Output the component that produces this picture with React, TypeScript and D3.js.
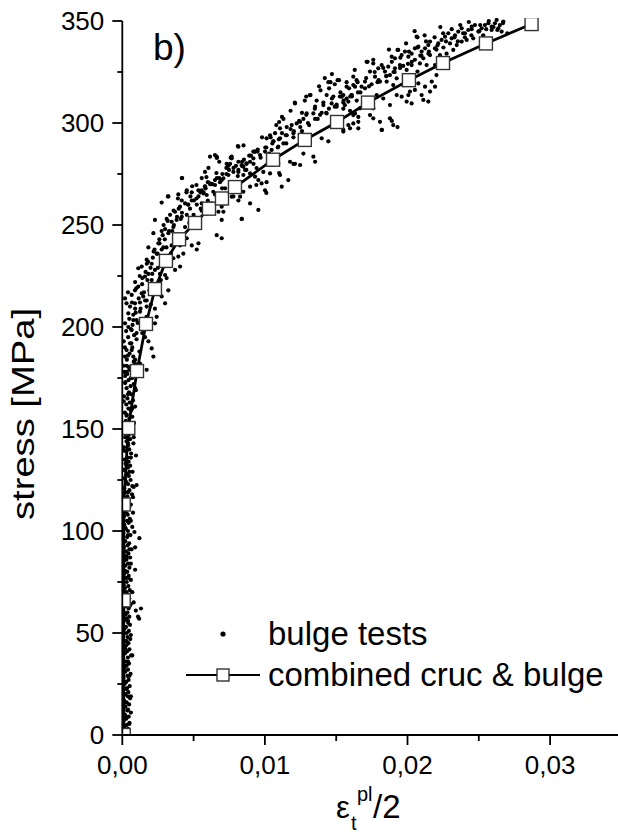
import React from "react";
import * as d3 from "d3";

type P = [number, number];

// bulge tests: strain (eps_t^pl / 2), stress [MPa]
const bulgeLow: P[] = [
[0.00005,1],[0.00025,2],[0.0004,3],[0.00015,4],[0.00032,5],[0.0005,6],[0.0001,7],[0.00028,8],[0.00045,9],[0.00018,10],[0.0006,11],[0.00035,12],[0.00008,13],[0.00022,14],[0.00048,15],[0.0003,16],[0.00012,17],[0.00055,18],[0.00038,19],[0.0002,20],[0.00042,21],[0.00006,22],[0.00033,23],[0.00052,24],[0.00016,25],[0.00027,26],[0.00044,27],[0.00009,28],[0.00036,29],[0.00058,30],[0.00021,31],[0.0004,32],[0.00013,33],[0.0003,34],[0.00047,35],[0.00024,36],[0.00005,37],[0.00039,38],[0.00062,39],[0.00018,40],[0.00034,41],[0.0005,42],[0.00011,43],[0.00028,44],[0.00043,45],[0.0002,46],[0.00056,47],[0.00037,48],[0.00008,49],[0.00031,50],[0.00046,51],[0.00015,52],[0.00026,53],[0.00054,54],[0.00041,55],[0.00012,56],[0.0003,57],[0.00118,57],[0.00049,58],[0.00022,59],[0.00036,60],[0.00007,61],[0.00044,62],[0.00131,62],[0.00025,63],[0.00058,64],[0.00017,65],[0.00033,66],[0.00048,67],[0.0001,68],[0.00038,69],[0.00027,70],[0.00052,71],[0.00019,72],[0.00042,73],[0.00006,74],[0.00031,75],[0.0006,76],[0.00023,77],[0.00045,78],[0.00014,79],[0.00035,80],[0.0009,81],[0.0005,82],[0.0002,83],[0.0004,84],[0.00009,85],[0.00029,86],[0.00055,87],[0.00016,88],[0.00043,89],[0.00026,90],[0.00065,91],[0.00012,92],[0.00037,93],[0.00048,94],[0.00021,95],[0.0012,96.5],[0.00034,97],[0.00057,98],[0.00008,99],[0.0004,100],[0.00025,101],[0.0007,102],[0.00015,103],[0.00045,104],[0.00032,105],[0.00053,106],[0.00011,107],[0.00038,108],[0.00075,109],[0.00022,110],[0.00047,111],[0.00018,112],[0.0006,113],[0.0003,114],[0.00042,115],[0.00007,116],[0.00035,117],[0.00068,118],[0.00024,119],[0.0005,120],[0.00014,121],[0.001,122.5],[0.0004,123],[0.00028,124],[0.00058,125],[0.00019,126],[0.00046,127],[0.00033,128],[0.00072,129],[0.0001,130],[0.00039,131],[0.00055,132],[0.00023,133],[0.00044,134],[0.00016,135],[0.00096,137],[0.00036,136],[0.00062,138],[0.00027,139],[0.00049,140],[0.00012,141],[0.00041,142],[0.00078,143],[0.0003,144],[0.00054,145],[0.0002,146],[0.00045,147],[0.00066,148],[0.00034,149],[0.00015,150],[0.00059,151],[0.00038,152],[0.00082,153],[0.00025,154],[0.0005,155],[0.0007,156],[0.00031,157],[0.00018,158],[0.00061,159],[0.00043,160],[0.0009,161],[0.00028,162],[0.00052,163],[0.00075,164],[0.00036,165],[0.00012,166],[0.00064,167],[0.00047,168],[0.00095,169],[0.0003,170],[0.00058,171],[0.0008,172],[0.00022,173],[0.00044,174],[0.0007,175],[0.00105,176],[0.00035,177],[0.00015,178],
[0.00085,99.5],[0.0009,92],[0.0008,65],[0.00095,61],[0.0011,58],[0.00075,116.6],[0.0008,121.6]
];

const bulgeStrip: P[] = [
[0.0003,0.5],[0.0001,3],[0.0005,5.5],[0.0002,9],[0.0004,12.5],[0.0001,16],[0.0006,19],[0.0003,22.5],[0.0002,26],[0.0005,29],[0.0001,32.5],[0.0004,36],[0.0007,39],[0.0002,42.5],[0.0003,46],[0.0006,49],[0.0001,52.5],[0.0004,56],[0.0002,59.5],[0.0005,63],[0.0003,66.5],[0.0007,70],[0.0001,73.5],[0.0004,77],[0.0002,80.5],[0.0006,84],[0.0003,87.5],[0.0005,91],[0.0001,94.5],[0.0004,98],[0.0002,101.5],[0.0006,105],[0.0003,108.5],[0.0005,112],[0.0001,115.5],[0.0004,119],[0.0007,122],[0.0002,125.5],[0.0005,129],[0.0003,132.5],[0.0006,136],[0.0001,139.5],[0.0004,143],[0.0008,146],[0.0002,149.5],[0.0005,153],[0.0003,156.5],[0.0007,160],[0.0001,163.5],[0.0004,167],[0.0009,170],[0.0002,172.5],[0.0006,175],[0.0011,178],[0.0003,181],[0.0008,183]
];

const bulgeKnee: P[] = [
[0.0065,284.3],[0.00662,283],[0.00767,283.5],[0.00756,280],[0.00744,279],[0.00604,278],[0.00814,276],[0.00838,279],[0.00849,274.5],[0.00557,273],[0.00417,273],[0.00627,270],[0.0065,269.6],[0.00697,272],[0.00721,268],[0.0058,269],[0.00534,267],[0.00487,266],[0.00452,267],[0.00323,264],[0.00276,261],[0.00393,265],[0.00417,262],[0.0044,260.6],[0.00487,262],[0.00534,264],[0.00569,265.5],[0.00522,260],[0.00475,258],[0.00405,259],[0.0037,256.5],[0.00335,255],[0.00311,253],[0.00346,251.6],[0.00381,252.5],[0.00417,254],[0.00452,255],[0.00358,249],[0.003,248],[0.00276,247],[0.00323,246],[0.00229,252.5],[0.00218,246],[0.00183,239],[0.00253,241],[0.00288,239],[0.00346,240],[0.00405,240],[0.00452,243.5],[0.00487,240],[0.00534,241],[0.00522,238],[0.00428,236],[0.00393,234.5],[0.00358,233.7],[0.00276,238],[0.00241,236],[0.00171,233],[0.00206,231],[0.00136,229.6],[0.00112,228.8],[0.00229,228],[0.00264,226],[0.003,225.5],[0.00311,224],[0.0037,228],[0.00405,229.6],[0.00183,226],[0.00159,224.7],[0.00206,223],[0.00253,222],[0.00112,219.8],[0.00089,218],[0.00066,215.7],[0.00136,216.5],[0.00147,215],[0.00171,213],[0.00124,212],[0.00089,211.6],[0.00054,210],[0.00042,206.7],[0.00077,206],[0.00124,207.5],[0.00171,210],[0.00229,209],[0.003,211.6],[0.00323,218],[0.00276,215],[0.00019,214],[0.0003,211.6],[0.00019,201.8],[0.00042,200],[0.00066,198.5],[0.001,197],[0.00159,195],[0.00183,193],[0.00229,201.8],[0.00241,205],[0.00206,189.5],[0.00218,185.5],[0.00054,192],[0.00066,188.7],[0.0003,188.7],[0.00019,185.5],[0.00077,185.5],[0.00089,182],[0.00042,180.5],[0.0003,178],[0.00171,179],[0.00124,182],[0.001,203.4],[0.00077,203.4],[0.00697,252.5],[0.00662,245],[0.00697,243.5],[0.00838,253],[0.00814,262],[0.00779,264],[0.00674,256.5],[0.00697,259],[0.00721,260.6],[0.00627,260.6],[0.00592,255.7],[0.00557,257]
];

const bulgeMid: P[] = [
[0.01445,320],[0.01573,320],[0.0162,318.6],[0.01316,313.7],[0.01433,313.7],[0.0148,313],[0.01526,313],[0.01573,312],[0.01608,313.7],[0.01644,311],[0.01211,309.6],[0.01363,311],[0.01352,308],[0.0141,308.8],[0.01468,309.6],[0.01503,308],[0.0155,307],[0.01597,306],[0.01632,304.7],[0.01655,303],[0.01433,304.7],[0.01387,304],[0.0134,304.7],[0.01293,304.7],[0.0127,302],[0.01247,300.6],[0.01223,299.8],[0.01188,299],[0.01153,298],[0.0113,302],[0.01106,297.4],[0.01071,295],[0.01036,294],[0.01012,292.5],[0.01059,291],[0.01106,292.5],[0.01153,294],[0.012,295],[0.0113,290],[0.01094,288.4],[0.01047,286.8],[0.01001,286],[0.00966,284.3],[0.00931,286],[0.00919,282.7],[0.00896,281],[0.00872,280.2],[0.00849,278.6],[0.00814,277],[0.00779,276],[0.00744,274.5],[0.00709,272.9],[0.00685,271],[0.0065,272],[0.00615,270.4],[0.0058,268.8],[0.00557,267],[0.00592,264.7],[0.00638,266.3],[0.00732,280],[0.00767,282.7],[0.00814,281],[0.00837,279.4],[0.00861,277],[0.00896,275.3],[0.00931,273.7],[0.00954,272],[0.00977,270.4],[0.01012,271],[0.01001,267],[0.01106,274.5],[0.01118,268.8],[0.01164,272],[0.01176,281],[0.01211,280],[0.01247,279.4],[0.0134,283.5],[0.01352,281],[0.01445,291],[0.01398,292.5],[0.01503,298],[0.0155,296.6],[0.01585,299],[0.0162,299.8],[0.01655,297.4],[0.00615,283.5],[0.00662,283.5],[0.00814,288.4],[0.00919,286],[0.00826,263.9],[0.00896,260.6],[0.00954,257.4],[0.00837,253],[0.00709,256.5],[0.0058,259],[0.00557,260.6],[0.01047,279.4],[0.01094,280],[0.00942,277.9],[0.00989,276],[0.01036,275.3],[0.00896,268.8],[0.00849,266.3],[0.0079,267],[0.00767,263.9]
];

const bulgeHigh: P[] = [
[0.01538,312.9],[0.01561,308.8],[0.01585,310.5],[0.0162,322.7],[0.01643,321],[0.01632,317.8],[0.01678,317.8],[0.01702,320.3],[0.01737,325.2],[0.01713,330],[0.0176,329.2],[0.01795,326.8],[0.01819,328.4],[0.01842,325.2],[0.01865,327.6],[0.01889,332.5],[0.01912,331.7],[0.01935,335.8],[0.01959,333.3],[0.01982,335],[0.02006,332.5],[0.02029,334],[0.02052,336.6],[0.02076,337.4],[0.02099,335],[0.02123,336.6],[0.02146,338.2],[0.02158,339.9],[0.02193,336.6],[0.02216,339],[0.02239,340.7],[0.02263,342.3],[0.02286,344],[0.0231,341.5],[0.02333,343],[0.02356,344.8],[0.0238,346.4],[0.02403,344],[0.02426,345.6],[0.0245,347.2],[0.02473,348],[0.02497,344.8],[0.0252,346.4],[0.02543,348],[0.02567,348.9],[0.0259,347.2],[0.02613,348.9],[0.02625,350.5],[0.02672,349.7],[0.02531,343],[0.0259,345.6],[0.02637,346.4],[0.0266,344.8],[0.02064,342.3],[0.02111,331.7],[0.02158,333.3],[0.02193,328.4],[0.02228,333.3],[0.02274,334],[0.02321,335.8],[0.02345,338.2],[0.0238,339.9],[0.02415,340.7],[0.02461,341.5],[0.01772,322.7],[0.01807,320.3],[0.01854,320.3],[0.019,318.6],[0.01924,321.9],[0.01877,323.5],[0.01947,328.4],[0.01994,326],[0.01784,313.7],[0.0183,312],[0.01877,308.8],[0.0176,307.2],[0.01737,303.9],[0.0176,302.3],[0.01807,300.6],[0.01877,302.3],[0.019,299],[0.01819,296.6],[0.01655,300.6],[0.0162,303.9],[0.01597,297.4],[0.0155,295.8],[0.01924,313.7],[0.01959,312.9],[0.02006,313.7],[0.02029,309.6],[0.02099,313.7],[0.02111,311.3],[0.02146,310.5],[0.02017,315.4],[0.02052,316.2],[0.02123,317.8],[0.0217,320.3],[0.02203,323.5],[0.02193,317.8],[0.02158,315.4],[0.02076,319.4],[0.01573,317.8],[0.0155,313.7],[0.01608,313.7],[0.01667,307.2],[0.01702,309.6],[0.01994,310.5],[0.01971,318.6],[0.01912,326.8],[0.02029,328.4],[0.02087,329.2],[0.02134,328.4],[0.0207,325.2]
];

const bulgeExtra: P[] = [
[0.0121,310],[0.0081,288.7],[0.00664,283],[0.0042,273],[0.0032,264],[0.0112,303],[0.011,300.5],[0.0104,293],[0.0101,288],[0.0093,286],[0.0087,280],[0.0076,283],[0.0073,278],[0.0059,273.5],[0.006,271],[0.0066,275.5],[0.0052,269.6],[0.0045,266],[0.0094,269.6],[0.0101,265.7],[0.011,275.5],[0.012,280],[0.0127,285],[0.0129,313],[0.0207,342],[0.0193,335.8],[0.0172,330],[0.0146,320],[0.0132,313.7],[0.0126,305],[0.0193,298],[0.0182,296.6],[0.0189,301],[0.0263,345.6],[0.027,344],[0.0267,349],[0.0138,318],[0.0142,322],[0.0147,324],[0.0151,321],[0.0145,317],[0.0149,319],
[0.00008,181],[0.00032,184],[0.00051,187],[0.00018,190],[0.00063,192],[0.00041,195],[0.00083,196],[0.00027,198],[0.00072,201],[0.00108,202],[0.00049,204],[0.00094,207],[0.00128,209],[0.00068,212],[0.00115,214],[0.00152,217],[0.00098,219],[0.00139,221],[0.00176,223],[0.00122,225],[0.00163,227],[0.00198,229],[0.00172,231],[0.00214,234],[0.00247,236],[0.00226,238],[0.00261,241],[0.00298,243],[0.00283,245],[0.00327,247],[0.00362,250],[0.00318,252],[0.00384,254],[0.00418,256],[0.00396,258],[0.00463,260],[0.00502,262],[0.00478,264],[0.00548,266],[0.00584,268],[0.00617,270],[0.00663,273],[0.00702,275],[0.00748,277],[0.00797,279],[0.00853,282],[0.00902,284],[0.00948,286],[0.01003,288],[0.01052,290],[0.01098,292],[0.01147,294],[0.01203,296],[0.01248,298],[0.01302,300],[0.01352,302],[0.01398,305],[0.01449,307],[0.01503,309],[0.01552,311],[0.01598,313],[0.01653,315],[0.01702,317],[0.01748,319],[0.01797,321],[0.01853,323],[0.01902,325],[0.01948,327],[0.02003,329],[0.02052,331],[0.02098,333],[0.02147,334],[0.02203,336],[0.02252,337],[0.02298,339],[0.02353,340],[0.02402,342],[0.02448,343],[0.02503,345],[0.02552,346],[0.02603,347],[0.02648,348]
];

const bulgeDense: P[] = [
[0.0002,176],[0.0005,179],[0.0009,184],[0.0004,186],[0.0012,188],[0.0007,190],[0.0001,193],[0.001,194],[0.0014,197],[0.0006,199],[0.0013,203],[0.0017,205],[0.0009,209],[0.002,211],[0.0016,213],[0.0004,217],[0.0019,218],[0.0023,220],[0.0009,222],[0.0014,224],[0.0027,223],[0.0021,226],[0.0025,229],[0.0018,232],[0.0031,231],[0.0028,234],[0.0034,236],[0.0022,237],[0.0031,239],[0.0037,242],[0.0026,243],[0.004,245],[0.0035,247],[0.0044,249],[0.0029,250],[0.0047,251],[0.0041,253],[0.005,255],[0.0036,257],[0.0055,258],[0.0046,260],[0.006,262],[0.0052,263],[0.0039,263],[0.0065,265],[0.0057,266],[0.007,268],[0.0049,269],[0.0063,270],[0.0076,271],[0.0068,273],[0.0081,274],[0.0073,275],[0.0058,276],[0.0087,277],[0.0078,278],[0.0092,280],[0.0084,281],[0.0068,281],[0.0097,283],[0.0089,284],[0.0103,285],[0.0095,287],[0.0109,288],[0.0085,289],[0.0115,290],[0.0106,291],[0.012,293],[0.0098,293],[0.0112,295],[0.0126,296],[0.0118,297],[0.0131,299],[0.0108,299],[0.0124,301],[0.0137,302],[0.0129,304],[0.0143,305],[0.0118,306],[0.0135,307],[0.0149,308],[0.0141,310],[0.0155,310],[0.0128,311],[0.0147,312],[0.0161,313],[0.0153,315],[0.0167,315],[0.0139,316],[0.0159,317],[0.0173,318],[0.0165,320],[0.0179,320],[0.0152,321],[0.0171,322],[0.0185,323],[0.0177,325],[0.0191,325],[0.0163,326],[0.0183,327],[0.0197,328],[0.0189,330],[0.0203,330],[0.0176,331],[0.0195,332],[0.0209,333],[0.0201,335],[0.0215,335],[0.0187,336],[0.0207,337],[0.0221,338],[0.0213,340],[0.0227,340],[0.0199,339],[0.0219,342],[0.0233,342],[0.0225,344],[0.0239,344],[0.0212,343],[0.0231,346],[0.0245,346],[0.0237,348],[0.0251,348],[0.0243,349.5],[0.0257,350],[0.0223,347],[0.0205,345]
];

// combined cruc & bulge
const combStrain = [0.0001, 0.0001, 0.0001, 0.00042, 0.00103, 0.00166, 0.00229, 0.00306, 0.00398, 0.0051, 0.00608, 0.00699, 0.0079, 0.01057, 0.0128, 0.01506, 0.01723, 0.0201, 0.02249, 0.0255, 0.0287];
const combStress = [0, 66, 113, 150.5, 178.4, 201.5, 218.6, 232.4, 243, 251, 258, 263, 268.6, 282, 291.7, 300.5, 310, 321, 329.4, 339, 348.5];

const xMajor = [0, 0.01, 0.02, 0.03];
const xMinor = [0.005, 0.015, 0.025];
const yMajor = [0, 50, 100, 150, 200, 250, 300, 350];
const yMinor = [25, 75, 125, 175, 225, 275, 325];

const legendLabels = ["bulge tests", "combined cruc & bulge"];
const panelLabel = "b)";
const yTitle = "stress [MPa]";

const FONT = "'Liberation Sans', Arial, Helvetica, sans-serif";

export default function App() {
  const W = 618, H = 834;
  const x = d3.scaleLinear().domain([0, 0.035]).range([122.3, 621.4]);
  const y = d3.scaleLinear().domain([0, 350]).range([735, 21]);
  const fmt = (v: number) => d3.format(".2f")(v).replace(".", ",");
  const dots: P[] = [...bulgeLow, ...bulgeStrip, ...bulgeKnee, ...bulgeMid, ...bulgeHigh, ...bulgeExtra, ...bulgeDense];
  const comb: P[] = combStrain.map((s, i) => [s, combStress[i]]);
  const line = d3.line<P>().x(d => x(d[0])).y(d => y(d[1]));
  const sq = 13;
  const x0 = x(0), y0 = y(0), yTop = y(350);

  return (
    <svg width={W} height={H} style={{ position: "absolute", left: 0, top: 0, background: "#fff" }} fontFamily={FONT}>
      <rect width={W} height={H} fill="#fff" />
      <defs>
        <clipPath id="plotclip">
          <rect x={x0} y={yTop - 3} width={W - x0} height={y0 - yTop + 3} />
        </clipPath>
      </defs>
      <g clipPath="url(#plotclip)">
        {dots.map((d, i) => (
          <circle key={i} cx={x(d[0])} cy={y(d[1])} r={2.1} fill="#000" />
        ))}
        <path d={line(comb) || ""} fill="none" stroke="#000" strokeWidth={2.8} />
        {comb.map((d, i) => (
          <rect key={i} x={x(d[0]) - sq / 2} y={y(d[1]) - sq / 2} width={sq} height={sq} fill="#fff" stroke="#333" strokeWidth={1.4} />
        ))}
      </g>
      {/* axes */}
      <line x1={x0} x2={x0} y1={yTop} y2={y0} stroke="#000" strokeWidth={1.8} />
      <line x1={x0 - 0.9} x2={W} y1={y0} y2={y0} stroke="#000" strokeWidth={1.8} />
      {yMajor.map(v => (
        <g key={"ym" + v}>
          <line x1={x0 - 10} x2={x0} y1={y(v)} y2={y(v)} stroke="#000" strokeWidth={1.8} />
          <text x={x0 - 18} y={y(v)} dy="0.36em" textAnchor="end" fontSize={26} fill="#000">{v}</text>
        </g>
      ))}
      {yMinor.map(v => (
        <line key={"yn" + v} x1={x0 - 5} x2={x0} y1={y(v)} y2={y(v)} stroke="#000" strokeWidth={1.8} />
      ))}
      {xMajor.map(v => (
        <g key={"xm" + v}>
          <line x1={x(v)} x2={x(v)} y1={y0} y2={y0 + 10} stroke="#000" strokeWidth={1.8} />
          <text x={x(v)} y={y0 + 39} textAnchor="middle" fontSize={26} fill="#000">{fmt(v)}</text>
        </g>
      ))}
      {xMinor.map(v => (
        <line key={"xn" + v} x1={x(v)} x2={x(v)} y1={y0} y2={y0 + 6} stroke="#000" strokeWidth={1.8} />
      ))}
      {/* axis titles */}
      <text transform={`translate(34, 414) rotate(-90)`} textAnchor="middle" fontSize={31} textLength={212} lengthAdjust="spacingAndGlyphs" fill="#000">{yTitle}</text>
      <text x={336} y={818} fontSize={31} fill="#000">ε</text>
      <text x={351} y={830} fontSize={20} fill="#000">t</text>
      <text x={357} y={801} fontSize={20} fill="#000">pl</text>
      <text x={373} y={818} fontSize={33} fill="#000">/2</text>
      {/* panel label */}
      <text x={153} y={60} fontSize={37} fill="#000">{panelLabel}</text>
      {/* legend */}
      <circle cx={223} cy={634} r={2.6} fill="#000" />
      <text x={268} y={645} fontSize={33} fill="#000">{legendLabels[0]}</text>
      <line x1={186} x2={260} y1={675} y2={675} stroke="#000" strokeWidth={2} />
      <rect x={223 - 6} y={675 - 6} width={12} height={12} fill="#fff" stroke="#333" strokeWidth={1.4} />
      <text x={268} y={686} fontSize={33} fill="#000">{legendLabels[1]}</text>
    </svg>
  );
}
